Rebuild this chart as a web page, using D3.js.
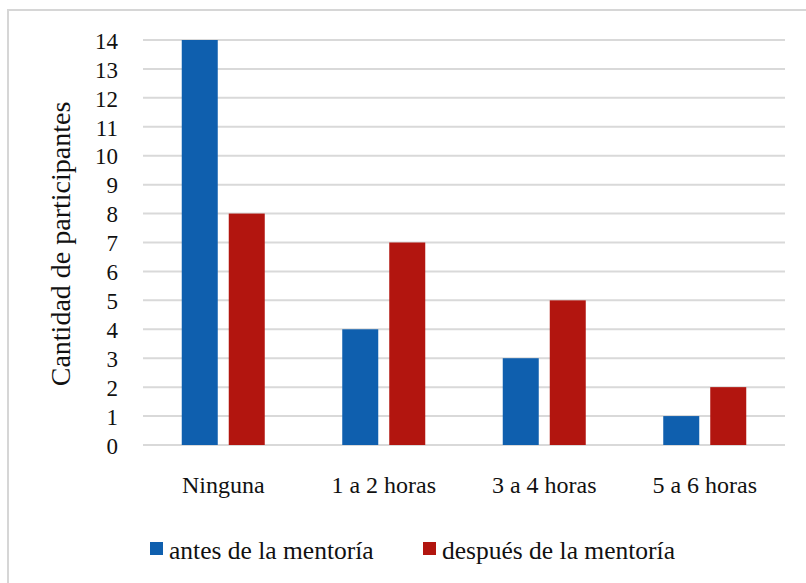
<!DOCTYPE html>
<html>
<head>
<meta charset="utf-8">
<script src="https://cdn.jsdelivr.net/npm/d3@7"></script>
<style>
  body { margin: 0; background: #fff; }
  svg { display: block; }
  text { font-family: "Liberation Serif", "DejaVu Serif", serif; fill: #111; }
</style>
</head>
<body>
<svg></svg>
<script>
var categories = ["Ninguna", "1 a 2 horas", "3 a 4 horas", "5 a 6 horas"];
var seriesNames = ["antes de la mentoría", "después de la mentoría"];
var antes = [14, 4, 3, 1];
var despues = [8, 7, 5, 2];
var yTicks = d3.range(0, 15);

var colors = ["#0f5fae", "#b2150f"];

var svg = d3.select("svg")
  .attr("width", 806)
  .attr("height", 583);

// outer frame (runs off right/bottom edge)
svg.append("rect")
  .attr("x", 8).attr("y", 10)
  .attr("width", 820).attr("height", 600)
  .attr("fill", "none")
  .attr("stroke", "#d6d6d6")
  .attr("stroke-width", 2);

var margin = { left: 143, right: 785, top: 40, bottom: 445 };

var x0 = d3.scaleBand()
  .domain(categories)
  .range([margin.left, margin.right]);

var y = d3.scaleLinear()
  .domain([0, 14])
  .range([margin.bottom, margin.top]);

var g = svg.append("g");

// gridlines
g.selectAll(".grid")
  .data(yTicks)
  .enter().append("line")
  .attr("class", "grid")
  .attr("x1", margin.left)
  .attr("x2", margin.right)
  .attr("y1", d => y(d))
  .attr("y2", d => y(d))
  .attr("stroke", "#d9d9d9")
  .attr("stroke-width", 2);

// y tick labels
g.selectAll(".ytick")
  .data(yTicks)
  .enter().append("text")
  .attr("class", "ytick")
  .attr("x", 118)
  .attr("y", d => y(d))
  .attr("dy", "0.38em")
  .attr("text-anchor", "end")
  .style("font-size", "23px")
  .text(d => d);

// bars
var barW = 36, gap = 11;
var rows = categories.map((c, i) => ({ cat: c, vals: [antes[i], despues[i]] }));

var grp = g.selectAll(".grp")
  .data(rows)
  .enter().append("g")
  .attr("class", "grp")
  .attr("transform", d => "translate(" + (x0(d.cat) + x0.bandwidth() / 2) + ",0)");

grp.selectAll("rect")
  .data(d => d.vals)
  .enter().append("rect")
  .attr("x", (d, i) => i === 0 ? -(barW + gap / 2) : gap / 2)
  .attr("width", barW)
  .attr("y", d => y(d))
  .attr("height", d => y(0) - y(d))
  .attr("fill", (d, i) => colors[i]);

// category labels
g.selectAll(".xlab")
  .data(categories)
  .enter().append("text")
  .attr("class", "xlab")
  .attr("x", d => x0(d) + x0.bandwidth() / 2)
  .attr("y", 493)
  .attr("text-anchor", "middle")
  .style("font-size", "24px")
  .text(d => d);

// y axis title
svg.append("text")
  .attr("transform", "translate(70," + 244 + ") rotate(-90)")
  .attr("text-anchor", "middle")
  .style("font-size", "28px")
  .text("Cantidad de participantes");

// legend
var legendX = [150, 423];
var leg = svg.selectAll(".leg")
  .data(seriesNames)
  .enter().append("g")
  .attr("class", "leg")
  .attr("transform", (d, i) => "translate(" + legendX[i] + ",542)");

leg.append("rect")
  .attr("width", 13).attr("height", 13)
  .attr("fill", (d, i) => colors[i]);

leg.append("text")
  .attr("x", 19)
  .attr("y", 17)
  .style("font-size", "25.5px")
  .text(d => d);
</script>
</body>
</html>
